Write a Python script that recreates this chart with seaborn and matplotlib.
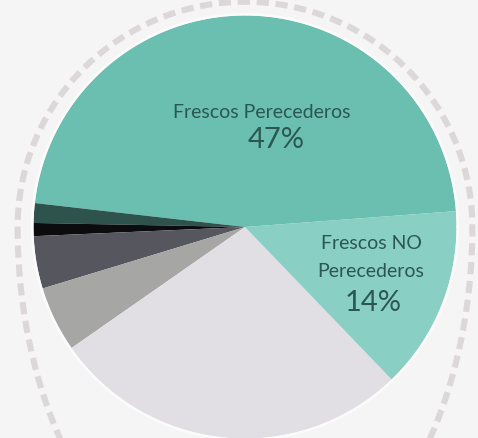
import numpy as np
import matplotlib
matplotlib.use("Agg")
import matplotlib.pyplot as plt
import seaborn as sns

# Shares of each product group (percent), drawn counter-clockwise
categories = [
    "Frescos Perecederos",
    "Congelados",
    "Bebidas",
    "Limpieza",
    "Higiene",
    "Secos",
    "Frescos NO Perecederos",
]
shares = [47, 1.5, 1, 4, 5, 27.5, 14]
slice_colors = ["#6bbfb0", "#2e534d", "#0c0c0e", "#56575e", "#a6a7a5", "#e1dfe4", "#89cfc4"]

label_lines = {
    "Frescos Perecederos": ["Frescos Perecederos"],
    "Frescos NO Perecederos": ["Frescos NO", "Perecederos"],
}

sns.set_theme(style="white")
plt.rcParams["font.family"] = ["Lato", "DejaVu Sans"]

bg = "#f5f5f5"
text_col = "#2b5752"

fig = plt.figure(figsize=(4.78, 4.39), dpi=100, facecolor=bg)
ax = fig.add_axes([0, 0, 1, 1])
ax.set_facecolor(bg)

palette = sns.color_palette(slice_colors)
wedges, _ = ax.pie(
    shares,
    colors=palette,
    startangle=4.3,
    counterclock=True,
    radius=1.0,
    wedgeprops=dict(linewidth=0, edgecolor="none"),
)

# Unit circle is the pie; px per unit and centre offset
scale = 211.5
cx, cy = 245, 228
ax.set_aspect("auto")
ax.set_xlim(-cx / scale, (478 - cx) / scale)
ax.set_ylim(-(439 - cy) / scale, cy / scale)
ax.set_axis_off()

# thin light rim around the pie
t = np.linspace(0, 2 * np.pi, 400)
ax.plot(1.006 * np.cos(t), 1.006 * np.sin(t), color="#fbfbfb", lw=1.8, zorder=3)

# dashed outline: round on top, stretched downwards on the sides
tt = np.linspace(-0.30 * np.pi, 1.30 * np.pi, 600)
rx = 1.075
ry = np.where(np.sin(tt) >= 0, 1.065, 1.72)
ax.plot(rx * np.cos(tt), ry * np.sin(tt), color="#dcd8da", lw=4.4,
        linestyle=(0, (2.0, 1.1)), solid_capstyle="butt", dash_capstyle="butt",
        zorder=1)

# labels
total = sum(shares)
pct = {c: f"{v / total * 100:.0f}%" for c, v in zip(categories, shares)}

name_size = 14
ax.text(0.08, 0.548, label_lines["Frescos Perecederos"][0], ha="center", va="center",
        fontsize=name_size, color=text_col, zorder=5)
ax.text(0.147, 0.416, pct["Frescos Perecederos"], ha="center", va="center",
        fontsize=21, color=text_col, zorder=5)

ax.text(0.60, -0.071, label_lines["Frescos NO Perecederos"][0], ha="center", va="center",
        fontsize=name_size, color=text_col, zorder=5)
ax.text(0.596, -0.208, label_lines["Frescos NO Perecederos"][1], ha="center", va="center",
        fontsize=name_size, color=text_col, zorder=5)
ax.text(0.605, -0.355, pct["Frescos NO Perecederos"], ha="center", va="center",
        fontsize=21, color=text_col, zorder=5)

fig.savefig("out.png", dpi=100, facecolor=bg)
